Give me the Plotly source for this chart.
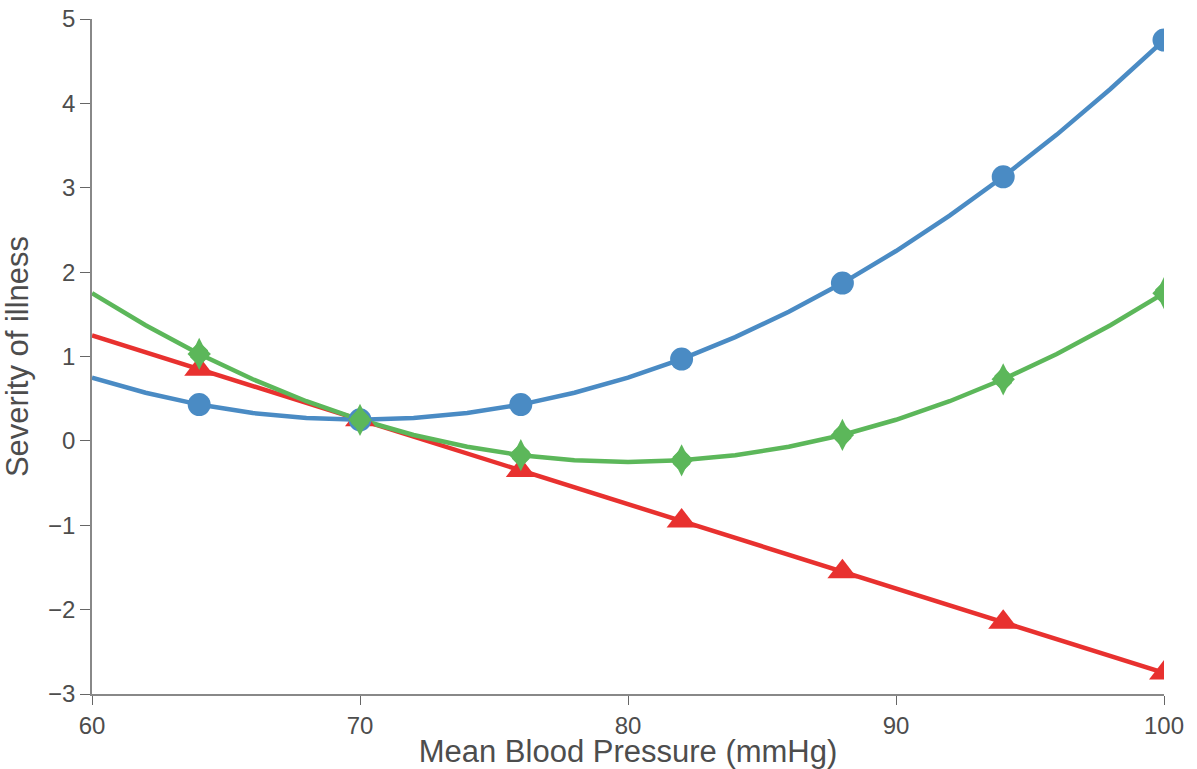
import plotly.graph_objects as go

# Mean blood pressure grid (mmHg) for the curves
pressure = [60, 62, 64, 66, 68, 70, 72, 74, 76, 78, 80, 82, 84, 86, 88, 90, 92, 94, 96, 98, 100]

# Severity of illness for each model
severity_blue = [0.75, 0.57, 0.43, 0.33, 0.27, 0.25, 0.27, 0.33, 0.43, 0.57, 0.75,
                 0.97, 1.23, 1.53, 1.87, 2.25, 2.67, 3.13, 3.63, 4.17, 4.75]
severity_red = [1.25, 1.05, 0.85, 0.65, 0.45, 0.25, 0.05, -0.15, -0.35, -0.55, -0.75,
                -0.95, -1.15, -1.35, -1.55, -1.75, -1.95, -2.15, -2.35, -2.55, -2.75]
severity_green = [1.75, 1.37, 1.03, 0.73, 0.47, 0.25, 0.07, -0.07, -0.17, -0.23, -0.25,
                  -0.23, -0.17, -0.07, 0.07, 0.25, 0.47, 0.73, 1.03, 1.37, 1.75]

# Pressures where markers are shown
marker_pressure = [64, 70, 76, 82, 88, 94, 100]

x_ticks = [60, 70, 80, 90, 100]
y_ticks = [-3, -2, -1, 0, 1, 2, 3, 4, 5]
y_tick_text = ["\u22123", "\u22122", "\u22121", "0", "1", "2", "3", "4", "5"]

# (values, colour, list of (symbol, size) layers stacked to form the marker)
series = [
    (severity_red, "#e8312f", [("triangle-up", 26)]),
    (severity_blue, "#4a8bc4", [("circle", 23)]),
    (severity_green, "#5cb75a", [("diamond", 18), ("diamond-tall", 23), ("octagon", 19)]),
]

fig = go.Figure()
for values, color, layers in series:
    fig.add_trace(go.Scatter(
        x=pressure, y=values, mode="lines",
        line=dict(color=color, width=4.5),
        showlegend=False, hoverinfo="skip",
    ))
for values, color, layers in series:
    lookup = dict(zip(pressure, values))
    marker_values = [lookup[p] for p in marker_pressure]
    for symbol, size in layers:
        fig.add_trace(go.Scatter(
            x=marker_pressure, y=marker_values, mode="markers",
            marker=dict(color=color, symbol=symbol, size=size, line=dict(width=0)),
            showlegend=False,
        ))

font_family = "Liberation Sans, Arial, Helvetica, sans-serif"
axis_font = dict(family=font_family, size=24, color="#4d4d4d")
title_font = dict(family=font_family, size=31, color="#4d4d4d")

fig.update_layout(
    width=1197, height=769,
    margin=dict(l=92, r=33, t=19, b=75),
    paper_bgcolor="white", plot_bgcolor="white",
    xaxis=dict(
        range=[60, 100], tickvals=x_ticks, ticks="outside", ticklen=9, tickcolor="#666",
        tickwidth=1.2, showline=True, linecolor="#888", linewidth=1.5, showgrid=False,
        zeroline=False, tickfont=axis_font, automargin=False,
        title=dict(text="Mean Blood Pressure (mmHg)", font=title_font, standoff=2),
    ),
    yaxis=dict(
        range=[-3, 5], tickvals=y_ticks, ticktext=y_tick_text, ticks="outside", ticklen=10,
        tickcolor="#666", tickwidth=1.2, showline=True, linecolor="#888", linewidth=1.5,
        showgrid=False, zeroline=False, tickfont=axis_font, automargin=False,
        title=dict(text="Severity of illness", font=title_font, standoff=10),
    ),
)

fig.write_html("out.html")
